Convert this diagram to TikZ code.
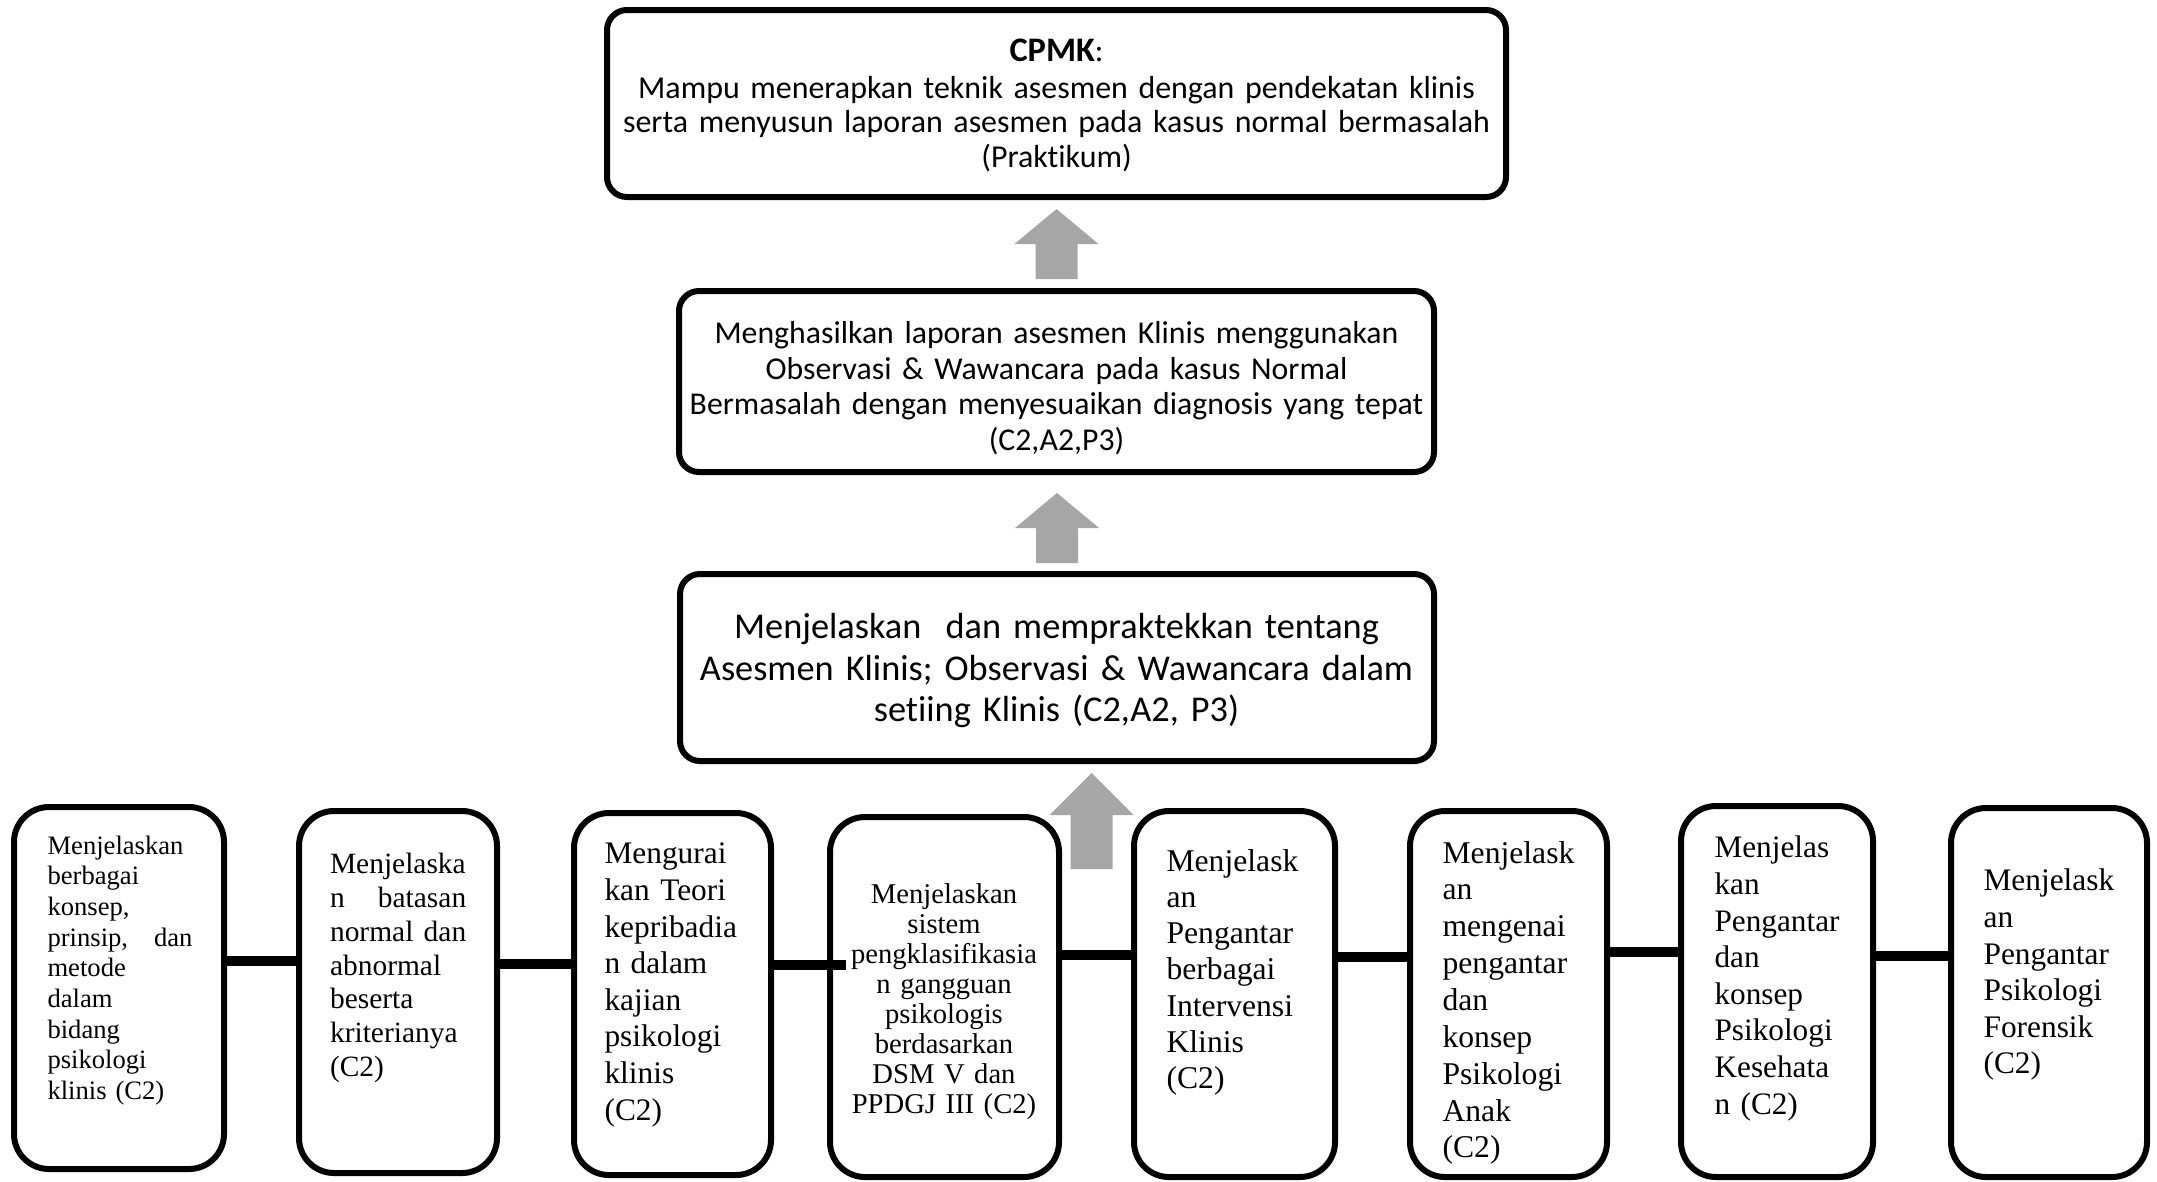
\documentclass[tikz,border=0pt]{standalone}
\usepackage{fontspec}
\setmainfont{Liberation Serif}
\newfontfamily\calibri[Ligatures={NoCommon}]{Carlito}
\usetikzlibrary{calc}
\newdimen\pxu \pxu=0.36347pt
\definecolor{arrgray}{RGB}{166,166,166}
\tikzset{
  upbox/.style={draw, line width=6\pxu, rounded corners=20\pxu, inner sep=0pt, outer sep=0pt, anchor=north west},
  lowbox/.style={draw, line width=6\pxu, rounded corners=35\pxu, inner sep=0pt, outer sep=0pt, anchor=north west},
  conn/.style={line width=10\pxu},
  uptext/.style={inner sep=0pt, anchor=north, align=center, text width=330pt},
  lowtext/.style={inner sep=0pt, anchor=north west, align=left},
  pics/uparr/.style 2 args={code={\fill[arrgray] (-21,0) -- (-21,-#1) -- (-42,-#1) -- (0,-#2) -- (42,-#1) -- (21,-#1) -- (21,0) -- cycle;}},
}
\begin{document}
\begin{tikzpicture}[x={(0.36347pt,0)}, y={(0,-0.36347pt)}]
\useasboundingbox (0,0) rectangle (2157,1181);
\fill[white] (0,0) rectangle (2157,1181);
% upper boxes
\node[upbox, minimum width=899\pxu, minimum height=187\pxu] (cpmk) at (607,10) {};
\node[upbox, minimum width=755\pxu, minimum height=181\pxu] (sub1) at (679,291) {};
\node[upbox, minimum width=754\pxu, minimum height=187\pxu] (sub2) at (680,574) {};
% upper texts
\node[uptext, font=\calibri\fontsize{11.6pt}{12.5pt}\selectfont] (tcpmk) at (1056.5,38)
  {{\fontsize{12.5pt}{12.5pt}\selectfont\bfseries CPMK}:\\[1pt]
   Mampu menerapkan teknik asesmen dengan pendekatan klinis\\
   serta menyusun laporan asesmen pada kasus normal bermasalah\\
   (Praktikum)};
\node[uptext, font=\calibri\fontsize{11.55pt}{12.9pt}\selectfont] (tsub1) at (1056.5,321)
  {Menghasilkan laporan asesmen Klinis menggunakan\\
   Observasi \& Wawancara pada kasus Normal\\
   Bermasalah dengan menyesuaikan diagnosis yang tepat\\
   (C2,A2,P3)};
\node[uptext, font=\calibri\fontsize{13.2pt}{15pt}\selectfont] (tsub2) at (1056.5,613)
  {Menjelaskan\ \ dan mempraktekkan tentang\\
   Asesmen Klinis; Observasi \& Wawancara dalam\\
   setiing Klinis (C2,A2, P3)};
% lower boxes
\node[lowbox, minimum width=210\pxu, minimum height=362\pxu] (b1) at (14,807) {};
\node[lowbox, minimum width=198\pxu, minimum height=362\pxu] (b2) at (299,811) {};
\node[lowbox, minimum width=197\pxu, minimum height=362\pxu] (b3) at (574,813) {};
\node[lowbox, minimum width=229\pxu, minimum height=360\pxu] (b4) at (830,817) {};
\node[lowbox, minimum width=201\pxu, minimum height=366\pxu] (b5) at (1134,811) {};
\node[lowbox, minimum width=197\pxu, minimum height=366\pxu] (b6) at (1410,811) {};
\node[lowbox, minimum width=192\pxu, minimum height=371\pxu] (b7) at (1681,806) {};
\node[lowbox, minimum width=196\pxu, minimum height=369\pxu] (b8) at (1951,808) {};
% lower texts
\node[lowtext, text width=52.7pt, font=\fontsize{9.67pt}{11.16pt}\selectfont] (t1) at (47,835)
  {Menjelaskan\\ berbagai\\ konsep,\\ prinsip,\hfill dan\\ metode\\ dalam\\ bidang\\ psikologi\\ klinis (C2)};
\node[lowtext, text width=49.5pt, font=\fontsize{10.7pt}{12.25pt}\selectfont] (t2) at (329.5,853)
  {Menjelaska\\ n\hfill batasan\\ normal\hfill dan\\ abnormal\\ beserta\\ kriterianya\\ (C2)};
\node[lowtext, text width=52pt, font=\fontsize{11.4pt}{13.3pt}\selectfont] (t3) at (604,842.6)
  {Mengurai\\ kan Teori\\ kepribadia\\ n dalam\\ kajian\\ psikologi\\ klinis\\ (C2)};
\node[inner sep=0pt, anchor=north, align=center, text width=75pt, font=\fontsize{10.4pt}{10.9pt}\selectfont] (t4) at (944,883.5)
  {Menjelaskan\\ sistem\\ pengklasifikasia\\ n gangguan\\ psikologis\\ berdasarkan\\ DSM V dan\\ PPDGJ III (C2)};
\node[lowtext, text width=55pt, font=\fontsize{11.5pt}{13.2pt}\selectfont] (t5) at (1166,848.5)
  {Menjelask\\ an\\ Pengantar\\ berbagai\\ Intervensi\\ Klinis\\ (C2)};
\node[lowtext, text width=55pt, font=\fontsize{11.5pt}{13.4pt}\selectfont] (t6) at (1442,840.5)
  {Menjelask\\ an\\ mengenai\\ pengantar\\ dan\\ konsep\\ Psikologi\\ Anak\\ (C2)};
\node[lowtext, text width=55pt, font=\fontsize{11.36pt}{13.3pt}\selectfont] (t7) at (1714,835.7)
  {Menjelas\\ kan\\ Pengantar\\ dan\\ konsep\\ Psikologi\\ Kesehata\\ n (C2)};
\node[lowtext, text width=55pt, font=\fontsize{11.4pt}{13.3pt}\selectfont] (t8) at (1983,868.6)
  {Menjelask\\ an\\ Pengantar\\ Psikologi\\ Forensik\\ (C2)};
% connectors
\coordinate (y12) at (0,961);
\coordinate (y23) at (0,964);
\coordinate (y34) at (0,965);
\coordinate (e34) at (846,965);
\coordinate (y45) at (0,955);
\coordinate (y56) at (0,957);
\coordinate (y67) at (0,952);
\coordinate (y78) at (0,956);
\draw[conn] (b1.east |- y12) -- (b2.west |- y12);
\draw[conn] (b2.east |- y23) -- (b3.west |- y23);
\draw[conn] (b3.east |- y34) -- (e34);
\draw[conn] (b4.east |- y45) -- (b5.west |- y45);
\draw[conn] (b5.east |- y56) -- (b6.west |- y56);
\draw[conn] (b6.east |- y67) -- (b7.west |- y67);
\draw[conn] (b7.east |- y78) -- (b8.west |- y78);
% block arrows
\pic at ($(sub1.north)+(0,-12)$) {uparr={35}{70}};
\pic at ($(sub2.north)+(0,-11)$) {uparr={35}{70}};
\pic at ($(sub2.south)+(34.5,108)$) {uparr={54}{96}};
\end{tikzpicture}
\end{document}
